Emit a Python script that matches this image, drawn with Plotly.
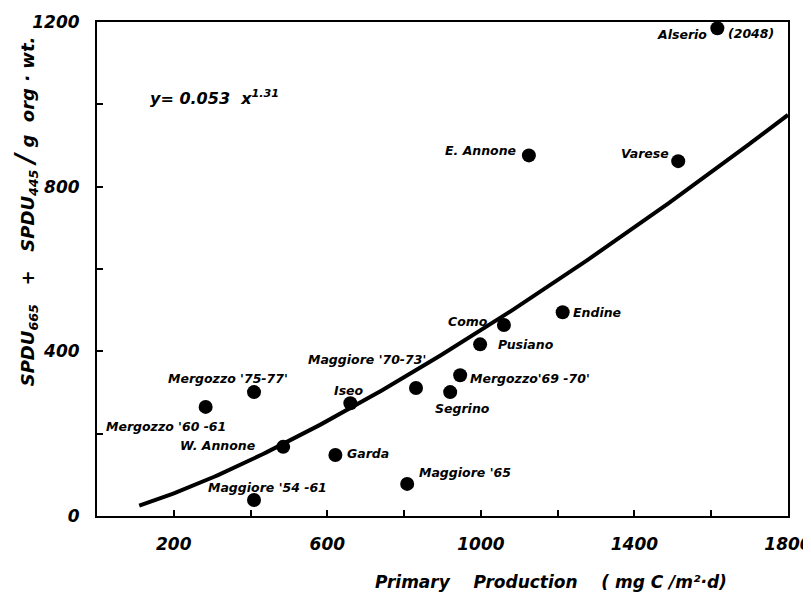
import numpy as np
import plotly.graph_objects as go

lakes = ["Alserio", "E. Annone", "Varese", "Endine", "Como", "Pusiano",
         "Mergozzo'69 -70'", "Segrino", "Maggiore '70-73'", "Maggiore '65",
         "Iseo", "Garda", "W. Annone", "Mergozzo '75-77'", "Mergozzo '60 -61",
         "Maggiore '54 -61"]
production = [1616, 1125, 1514, 1213, 1060, 998, 946, 920, 831, 808,
              660, 621, 485, 409, 283, 409]
spdu = [1185, 876, 862, 495, 464, 417, 342, 301, 311, 78,
        274, 148, 168, 301, 265, 39]

# label placement: (xanchor, xshift, yshift)
label_pos = [
    ("right", -8, -6), ("right", -11, 5), ("right", -7, 8), ("left", 8, 0),
    ("right", -14, 3), ("left", 16, 0), ("left", 8, -3), ("center", 12, -16),
    ("right", 12, 28), ("left", 10, 11), ("center", -1, 13), ("left", 10, 2),
    ("right", -26, 1), ("left", -88, 14), ("left", -102, -20), ("left", -48, 12),
]

coef_a = 0.053
coef_b = 1.31
fit_x = np.linspace(110, 1800, 200)
fit_y = coef_a * fit_x ** coef_b

font_fam = "DejaVu Sans"
lab_font = dict(family=font_fam, size=12.5, color="black", weight="bold", style="italic")

fig = go.Figure()
fig.add_trace(go.Scatter(x=fit_x, y=fit_y, mode="lines",
                         line=dict(color="black", width=4), hoverinfo="skip"))
fig.add_trace(go.Scatter(x=production, y=spdu, mode="markers", text=lakes,
                         marker=dict(color="black", size=14), cliponaxis=False))

for name, px, py, (xa, xs, ys) in zip(lakes, production, spdu, label_pos):
    fig.add_annotation(x=px, y=py, text=name, showarrow=False, xanchor=xa,
                       yanchor="middle", xshift=xs, yshift=ys, font=lab_font)
fig.add_annotation(x=production[0], y=spdu[0], text="(2048)", showarrow=False,
                   xanchor="left", xshift=9, yshift=-5, font=lab_font)

fig.add_annotation(xref="paper", yref="paper", x=0.074, y=0.848,
                   text="y= 0.053  x<sup>1.31</sup>", showarrow=False,
                   xanchor="left", yanchor="middle",
                   font=dict(family=font_fam, size=16, color="black", weight="bold", style="italic"))

fig.add_annotation(xref="paper", yref="paper", x=0.657, y=-0.134,
                   text="Primary    Production    ( mg C /m²·d)", showarrow=False,
                   xanchor="center", yanchor="middle",
                   font=dict(family=font_fam, size=17, color="black", weight="bold", style="italic"))
fig.add_annotation(xref="paper", yref="paper", x=-0.104, y=0.617,
                   text="SPDU<sub>665</sub>   +   SPDU<sub>445</sub> <span style='font-size:26px'>/</span> g  org · wt.",
                   textangle=-90, showarrow=False,
                   xanchor="center", yanchor="middle",
                   font=dict(family=font_fam, size=18, color="black", weight="bold", style="italic"))

tick_font = dict(family=font_fam, size=17, color="black", weight="bold", style="italic")
fig.update_xaxes(range=[0, 1800], tick0=200, dtick=400, ticks="inside", ticklen=6,
                 tickwidth=1.5, tickcolor="black", showline=True, linecolor="black",
                 linewidth=2, mirror=True, showgrid=False, zeroline=False,
                 tickfont=tick_font, ticklabelstandoff=12, ticklabeloverflow="allow",
                 automargin=False,
                 minor=dict(dtick=200, tick0=0, ticks="inside", ticklen=6, tickcolor="black",
                            showgrid=False))
fig.update_yaxes(range=[0, 1200], tick0=0, dtick=400, ticks="inside", ticklen=6,
                 tickwidth=1.5, tickcolor="black", showline=True, linecolor="black",
                 linewidth=2, mirror=True, showgrid=False, zeroline=False,
                 tickfont=tick_font, ticklabelstandoff=12, ticklabeloverflow="allow",
                 automargin=False,
                 minor=dict(dtick=200, tick0=0, ticks="inside", ticklen=6, tickcolor="black",
                            showgrid=False))

fig.update_layout(width=811, height=588, margin=dict(l=89, r=31, t=14, b=80),
                  plot_bgcolor="white", paper_bgcolor="white", showlegend=False)
fig.write_html("out.html")
